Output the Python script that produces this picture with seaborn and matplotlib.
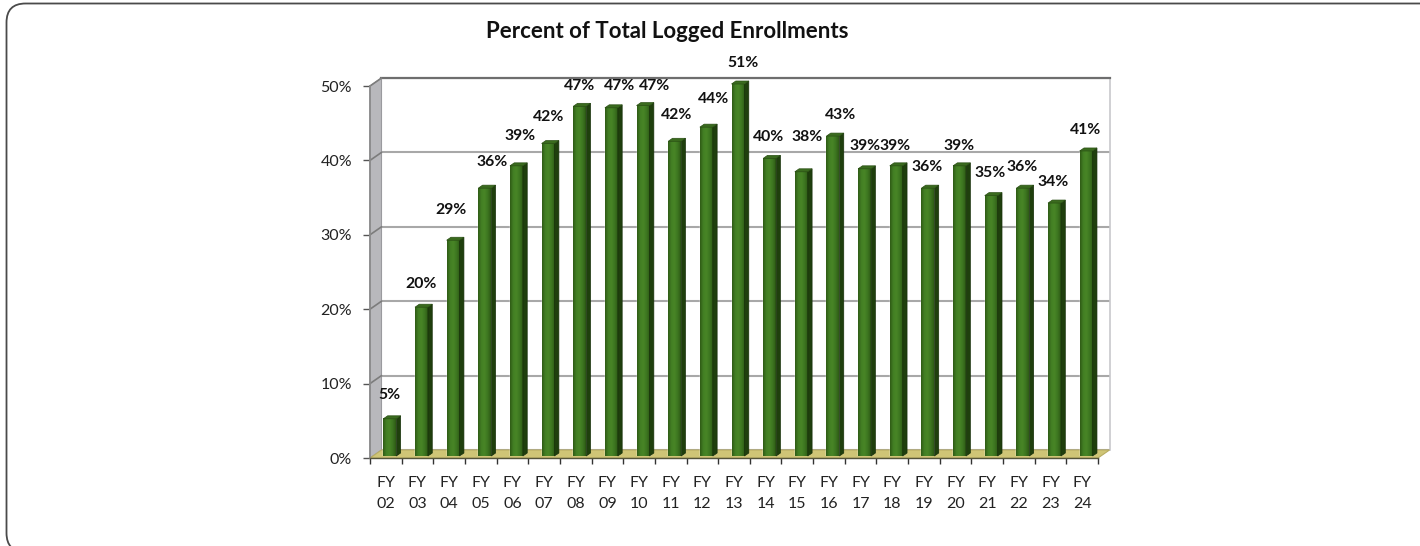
import numpy as np
import pandas as pd
import seaborn as sns
import matplotlib
matplotlib.use('Agg')
import matplotlib.pyplot as plt
from matplotlib.colors import LinearSegmentedColormap
from matplotlib.patches import FancyBboxPatch, Polygon
from matplotlib.transforms import IdentityTransform

years = ['02', '03', '04', '05', '06', '07', '08', '09', '10', '11', '12', '13',
         '14', '15', '16', '17', '18', '19', '20', '21', '22', '23', '24']
percent = [5, 20, 29, 36, 39, 42, 47, 46.8, 47.1, 42.3, 44.2, 51,
           40, 38.2, 43, 38.6, 39, 36, 39, 35, 36, 34, 41]
y_ticks = [0, 10, 20, 30, 40, 50]
title = 'Percent of Total Logged Enrollments'

# hand placed data labels in the original, pixels from the top of each bar
label_dx = [0, 0, -2, 7, 4, 1, 0, 8, 12, 2, 7, 5, -1, 6, 8, 0, -1, -1, -1, -1, -1, -1, -1]
label_dy = [24, 23, 30, 26, 30, 27, 20, 22, 20, 26, 28, 21, 21, 35, 21, 23, 20, 21, 20, 23, 21, 21, 21]

W, H = 1420, 546
STEP = 31.65     # px per category
PCT = 7.44       # px per percent point


def px_axes(fig, left, top, right, bottom, zorder):
    ax = fig.add_axes([left / W, 1 - bottom / H, (right - left) / W, (bottom - top) / H], zorder=zorder)
    ax.patch.set_visible(False)
    ax.set_xlim(-0.5, 22.5)
    ax.set_ylim(0, 50)
    return ax


sns.set_theme(style='white')
plt.rcParams['font.family'] = ['Lato', 'DejaVu Sans']

fig = plt.figure(figsize=(W / 100, H / 100), dpi=100, facecolor='white')

# rounded page frame, runs off the right and bottom of the picture
fig.add_artist(FancyBboxPatch((6.5, -6), 1500, 548.5, boxstyle='round,pad=0,rounding_size=19',
                              transform=IdentityTransform(), fc='none', ec='#4a4a4a', lw=1.3))

back = px_axes(fig, 381.5, 78, 1109.5, 450, 0)
front = px_axes(fig, 370, 86, 1098, 458, 1)
mid = px_axes(fig, 374, 84, 1102, 456, 2)

# back wall
for s in back.spines.values():
    s.set_visible(False)
back.spines['top'].set_visible(True)
back.spines['top'].set_color('#6e6e6e')
back.spines['top'].set_linewidth(1.6)
back.spines['right'].set_visible(True)
back.spines['right'].set_color('#c8c8cc')
back.spines['right'].set_linewidth(1.2)
back.set_xticks([])
back.set_yticks(y_ticks)
back.tick_params(left=False, labelleft=False)
back.grid(axis='y', color='#a8a8a8', lw=1.5)

# side wall and floor, depth of the box in data units of the front axes
dx = 11.5 / STEP
dy = 8 / PCT
front.add_patch(Polygon([(-0.5, 0), (-0.5 + dx, dy), (-0.5 + dx, 50 + dy), (-0.5, 50)],
                        fc='#b8b8bc', ec='#9a9a9e', lw=0.8, clip_on=False, zorder=1))
front.add_patch(Polygon([(-0.5, 0), (22.5, 0), (22.5 + dx, dy), (-0.5 + dx, dy)],
                        fc='#cfc576', ec='#b8ad62', lw=0.8, clip_on=False, zorder=1))
for t in y_ticks[1:]:
    front.plot([-0.5, -0.5 + dx], [t, t + dy], color='#7c7c7c', lw=1.2, clip_on=False, zorder=2)

# ticks sit on the front edge of the box
for s in ['top', 'right']:
    front.spines[s].set_visible(False)
front.spines['left'].set_color('#8a8a8a')
front.spines['bottom'].set_color('#55553a')
front.spines['bottom'].set_linewidth(1.0)
front.set_yticks(y_ticks)
front.set_yticklabels([f'{t}%' for t in y_ticks])
front.set_xticks(np.arange(-0.5, 23, 1))
front.set_xticklabels([])
front.set_xticks(np.arange(23), minor=True)
front.set_xticklabels([f'FY\n{y}' for y in years], minor=True, linespacing=1.6)
front.tick_params(axis='x', which='major', bottom=True, length=4, width=1, color='#333333')
front.tick_params(axis='x', which='minor', bottom=False, labelsize=11.5, pad=9, labelcolor='#222222')
front.tick_params(axis='y', left=True, length=5, width=1, color='#555555', labelsize=11.5, pad=8, labelcolor='#222222')

# bars
df = pd.DataFrame({'year': years, 'percent': percent})
sns.barplot(data=df, x='year', y='percent', color='#3f7f20', width=0.41, ax=mid, saturation=1)
mid.set_xlim(-0.5, 22.5)
mid.set_ylim(0, 50)
mid.set_autoscale_on(False)
mid.axis('off')

face = LinearSegmentedColormap.from_list('face', ['#2f5c16', '#437f24', '#488526', '#3d7620', '#2f5c16'])
grad = np.linspace(0, 1, 32).reshape(1, -1)
side_w = 4.3 / STEP
cap_h = 3 / PCT
for i, bar in enumerate(mid.patches):
    x0 = bar.get_x()
    x1 = x0 + bar.get_width()
    top = min(bar.get_height(), 50)
    im = mid.imshow(grad, cmap=face, extent=(x0, x1, 0, top), aspect='auto', zorder=3)
    mid.add_patch(Polygon([(x1, 0), (x1 + side_w, cap_h), (x1 + side_w, top + cap_h), (x1, top)],
                          fc='#1f3f0d', ec='#17300a', lw=0.5, clip_on=False, zorder=3))
    mid.add_patch(Polygon([(x0, top), (x1, top), (x1 + side_w, top + cap_h), (x0 + side_w, top + cap_h)],
                          fc='#3a6b1e', ec='#2a4f14', lw=0.5, clip_on=False, zorder=3))
    mid.annotate(f'{percent[i]:.0f}%', xy=(i, top), xytext=(label_dx[i], label_dy[i]),
                 textcoords='offset pixels', ha='center', va='center',
                 fontsize=11.3, fontweight='bold', color='#111111', annotation_clip=False, zorder=4)

fig.text(667 / W, 1 - 32 / H, title, ha='center', va='center', fontsize=16, fontweight='bold', color='#111111')

fig.savefig('out.png', dpi=100)
